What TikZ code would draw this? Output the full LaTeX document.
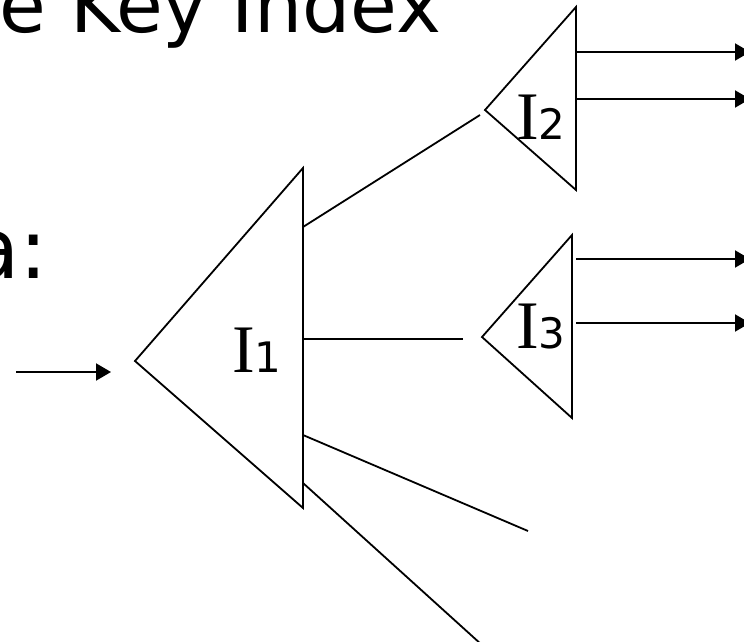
\documentclass[tikz,border=0pt]{standalone}
\usepackage{fontspec}
\setmainfont{DejaVu Sans}
\newfontfamily\serifI{Liberation Serif}
\usetikzlibrary{arrows.meta}
\begin{document}
\begin{tikzpicture}[x=1pt,y=-1pt,
  edge/.style={line width=1.8pt, line join=miter},
  conn/.style={line width=1.8pt},
  arr/.style={line width=2pt,-{Triangle[length=15pt,width=17pt]}},
  lbl/.style={inner sep=0pt, anchor=base west},
  txt/.style={inner sep=0pt}]
\useasboundingbox (0,0) rectangle (744,642);
\fill[white] (0,0) rectangle (744,642);
% texts
\node[txt, anchor=base west, font=\fontsize{76}{80}\selectfont] (title) at (-1,33) {e Key Index};
\node[txt, anchor=base east, font=\fontsize{84}{88}\selectfont] (data) at (48,278) {a:};
% triangle I1
\coordinate (A1) at (135,361);
\coordinate (T1) at (303,168);
\coordinate (B1) at (303,508);
\draw[edge] (A1) -- (T1) -- (B1) -- cycle;
% triangle I2
\coordinate (A2) at (485,110);
\coordinate (T2) at (576,7);
\coordinate (B2) at (576,190);
\draw[edge] (A2) -- (T2) -- (B2) -- cycle;
% triangle I3
\coordinate (A3) at (482,337);
\coordinate (T3) at (572,235);
\coordinate (B3) at (572,418);
\draw[edge] (A3) -- (T3) -- (B3) -- cycle;
% labels
\node[lbl] (l1) at (232,372) {{\fontsize{68}{70}\serifI I}{\fontsize{42}{44}\rmfamily 1}};
\node[lbl] (l2) at (516,139) {{\fontsize{68}{70}\serifI I}{\fontsize{42}{44}\rmfamily 2}};
\node[lbl] (l3) at (516,348) {{\fontsize{68}{70}\serifI I}{\fontsize{42}{44}\rmfamily 3}};
% connectors from I1
\coordinate (s1) at (303,227);
\coordinate (e1) at (480,115);
\coordinate (s2) at (303,339);
\coordinate (e2) at (463,339);
\coordinate (s3) at (303,435);
\coordinate (e3) at (528,531);
\coordinate (s4) at (303,483);
\coordinate (e4) at (482,645);
\draw[conn] (s1) -- (e1);
\draw[conn] (s2) -- (e2);
\draw[conn] (s3) -- (e3);
\draw[conn] (s4) -- (e4);
% input arrow
\coordinate (in0) at (16,372);
\coordinate (in1) at (111,372);
\draw[arr] (in0) -- (in1);
% output arrows
\coordinate (o1s) at (577,52);  \coordinate (o1e) at (750,52);
\coordinate (o2s) at (577,99);  \coordinate (o2e) at (750,99);
\coordinate (o3s) at (576,259); \coordinate (o3e) at (750,259);
\coordinate (o4s) at (576,323); \coordinate (o4e) at (750,323);
\draw[arr] (o1s) -- (o1e);
\draw[arr] (o2s) -- (o2e);
\draw[arr] (o3s) -- (o3e);
\draw[arr] (o4s) -- (o4e);
\end{tikzpicture}
\end{document}
